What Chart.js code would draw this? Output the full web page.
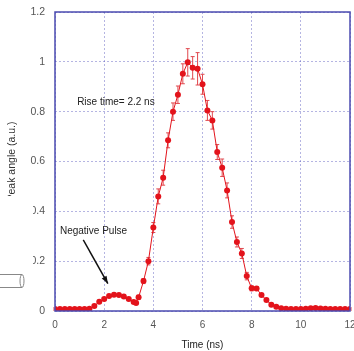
<!DOCTYPE html>
<html>
<head>
<meta charset="utf-8">
<script src="https://cdn.jsdelivr.net/npm/chart.js@4/dist/chart.umd.min.js"></script>
<style>
  html, body { margin: 0; padding: 0; background: #fff; }
  #wrap { width: 354px; height: 351px; position: relative; }
</style>
</head>
<body>
<div id="wrap"><canvas id="pulseChart" width="354" height="351"></canvas></div>
<script>
const timeNs = [0, 0.2, 0.4, 0.6, 0.8, 1.0, 1.2, 1.4, 1.6, 1.8, 2.0, 2.2, 2.4, 2.6, 2.8, 3.0, 3.2, 3.3, 3.4,
  3.6, 3.8, 4.0, 4.2, 4.4, 4.6, 4.8, 5.0, 5.2, 5.4, 5.6, 5.8, 6.0, 6.2, 6.4, 6.6, 6.8, 7.0, 7.2, 7.4, 7.6, 7.8,
  8.0, 8.2, 8.4, 8.6, 8.8, 9.0, 9.2, 9.4, 9.6, 9.8, 10.0, 10.2, 10.4, 10.6, 10.8, 11.0, 11.2, 11.4, 11.6, 11.8, 12.0];
const angle = [0.008, 0.008, 0.008, 0.008, 0.008, 0.008, 0.008, 0.009, 0.02, 0.037, 0.048, 0.06, 0.065, 0.064, 0.058, 0.048, 0.036, 0.032, 0.055,
  0.12, 0.2, 0.335, 0.46, 0.535, 0.685, 0.8, 0.868, 0.952, 0.998, 0.976, 0.972, 0.91, 0.805, 0.765, 0.638, 0.575, 0.484, 0.357, 0.277, 0.231, 0.14,
  0.091, 0.09, 0.064, 0.044, 0.025, 0.017, 0.011, 0.009, 0.008, 0.008, 0.008, 0.009, 0.011, 0.012, 0.01, 0.009, 0.008, 0.008, 0.008, 0.008, 0.008];
const angleErr = [0.004, 0.004, 0.004, 0.004, 0.004, 0.004, 0.004, 0.004, 0.006, 0.006, 0.006, 0.006, 0.006, 0.006, 0.006, 0.006, 0.006, 0.006, 0.008,
  0.01, 0.015, 0.02, 0.03, 0.03, 0.03, 0.035, 0.035, 0.04, 0.055, 0.045, 0.065, 0.04, 0.04, 0.035, 0.03, 0.035, 0.03, 0.025, 0.02, 0.02, 0.015,
  0.01, 0.008, 0.006, 0.006, 0.006, 0.006, 0.004, 0.004, 0.004, 0.004, 0.004, 0.004, 0.004, 0.004, 0.004, 0.004, 0.004, 0.004, 0.004, 0.004, 0.004];

const xTicks = [0, 2, 4, 6, 8, 10, 12];
const yTicks = [0, 0.2, 0.4, 0.6, 0.8, 1, 1.2];

// Annotations placed in data coordinates
const riseLabel = { text: "Rise time= 2.2 ns", x: 0.9, y: 0.836 };
const pulseLabel = { text: "Negative Pulse", x: 0.2, y: 0.32 };
const pulseArrow = { x0: 1.15, y0: 0.285, x1: 2.15, y1: 0.11 };

const RED = "#e3131b";
const FONT = "'Liberation Sans', Arial, sans-serif";

Chart.defaults.font.family = FONT;
Chart.defaults.color = "#555";

// Vertical error bars with caps
const errorBars = {
  id: "errorBars",
  beforeDatasetsDraw(chart) {
    const { ctx, scales } = chart;
    const meta = chart.getDatasetMeta(0);
    ctx.save();
    ctx.strokeStyle = "#e0484e";
    ctx.lineWidth = 1;
    meta.data.forEach((pt, i) => {
      const top = scales.y.getPixelForValue(angle[i] + angleErr[i]);
      const bot = scales.y.getPixelForValue(angle[i] - angleErr[i]);
      ctx.beginPath();
      ctx.moveTo(pt.x, top);
      ctx.lineTo(pt.x, bot);
      ctx.moveTo(pt.x - 2, top);
      ctx.lineTo(pt.x + 2, top);
      ctx.moveTo(pt.x - 2, bot);
      ctx.lineTo(pt.x + 2, bot);
      ctx.stroke();
    });
    ctx.restore();
  },
};

// Plot frame, labels, arrow and the cropped-edge leftovers
const decorations = {
  id: "decorations",
  afterDraw(chart) {
    const { ctx, chartArea: a, scales } = chart;
    const px = (v) => scales.x.getPixelForValue(v);
    const py = (v) => scales.y.getPixelForValue(v);
    ctx.save();

    ctx.strokeStyle = "#4b4bb0";
    ctx.lineWidth = 1.5;
    ctx.strokeRect(a.left, a.top, a.right - a.left, a.bottom - a.top);

    ctx.fillStyle = "#222";
    ctx.font = "10px " + FONT;
    ctx.textBaseline = "middle";
    ctx.textAlign = "left";
    ctx.fillText(riseLabel.text, px(riseLabel.x), py(riseLabel.y));
    ctx.fillText(pulseLabel.text, px(pulseLabel.x), py(pulseLabel.y));

    // arrow
    const x0 = px(pulseArrow.x0), y0 = py(pulseArrow.y0);
    const x1 = px(pulseArrow.x1), y1 = py(pulseArrow.y1);
    ctx.strokeStyle = "#111";
    ctx.lineWidth = 1.5;
    ctx.beginPath();
    ctx.moveTo(x0, y0);
    ctx.lineTo(x1, y1);
    ctx.stroke();
    const ang = Math.atan2(y1 - y0, x1 - x0);
    ctx.fillStyle = "#111";
    ctx.beginPath();
    ctx.moveTo(x1, y1);
    ctx.lineTo(x1 - 8 * Math.cos(ang - 0.35), y1 - 8 * Math.sin(ang - 0.35));
    ctx.lineTo(x1 - 8 * Math.cos(ang + 0.35), y1 - 8 * Math.sin(ang + 0.35));
    ctx.closePath();
    ctx.fill();

    // the source figure is cropped on the left
    ctx.fillStyle = "#fff";
    ctx.fillRect(0, 196, 33, 100);
    ctx.strokeStyle = "#888";
    ctx.lineWidth = 1;
    ctx.beginPath();
    ctx.moveTo(0, 274.5);
    ctx.lineTo(22, 274.5);
    ctx.moveTo(0, 287.5);
    ctx.lineTo(22, 287.5);
    ctx.stroke();
    ctx.beginPath();
    ctx.ellipse(22, 281, 2, 6.5, 0, 0, Math.PI * 2);
    ctx.stroke();
    ctx.restore();
  },
};

const ctx = document.getElementById("pulseChart").getContext("2d");
const pulseChart = new Chart(ctx, {
  type: "line",
  data: {
    datasets: [
      {
        data: timeNs.map((t, i) => ({ x: t, y: angle[i] })),
        borderColor: RED,
        borderWidth: 1,
        backgroundColor: RED,
        pointBackgroundColor: RED,
        pointBorderColor: RED,
        pointBorderWidth: 0,
        pointRadius: 3,
        tension: 0,
      },
    ],
  },
  options: {
    responsive: false,
    animation: false,
    layout: { padding: { top: 12, right: 2, left: 0, bottom: 0 } },
    plugins: { legend: { display: false }, tooltip: { enabled: false } },
    scales: {
      x: {
        type: "linear",
        min: 0,
        max: 12,
        afterBuildTicks: (s) => { s.ticks = xTicks.map((v) => ({ value: v })); },
        afterFit: (s) => { s.height = 40; s.paddingLeft = 0; s.paddingRight = 0; },
        grid: { color: "rgba(90, 90, 190, 0.45)", drawTicks: false, lineWidth: 1 },
        border: { display: false, dash: [2, 2] },
        ticks: { padding: 8, font: { size: 10 }, color: "#555", maxRotation: 0 },
        title: { display: true, text: "Time (ns)", color: "#222", font: { size: 10 }, padding: { top: 0, bottom: 0 } },
      },
      y: {
        type: "linear",
        min: 0,
        max: 1.2,
        afterBuildTicks: (s) => { s.ticks = yTicks.map((v) => ({ value: v })); },
        afterFit: (s) => { s.width = 55; s.paddingTop = 0; s.paddingBottom = 0; },
        grid: { color: "rgba(90, 90, 190, 0.45)", drawTicks: false, lineWidth: 1 },
        border: { display: false, dash: [2, 2] },
        ticks: {
          padding: 10,
          font: { size: 10.5 },
          color: "#555",
          callback: (v) => String(Math.round(v * 10) / 10),
        },
        title: { display: true, text: "Peak angle (a.u.)", color: "#333", font: { size: 10.5 }, padding: { top: 6, bottom: 2 } },
      },
    },
  },
  plugins: [errorBars, decorations],
});
</script>
</body>
</html>
